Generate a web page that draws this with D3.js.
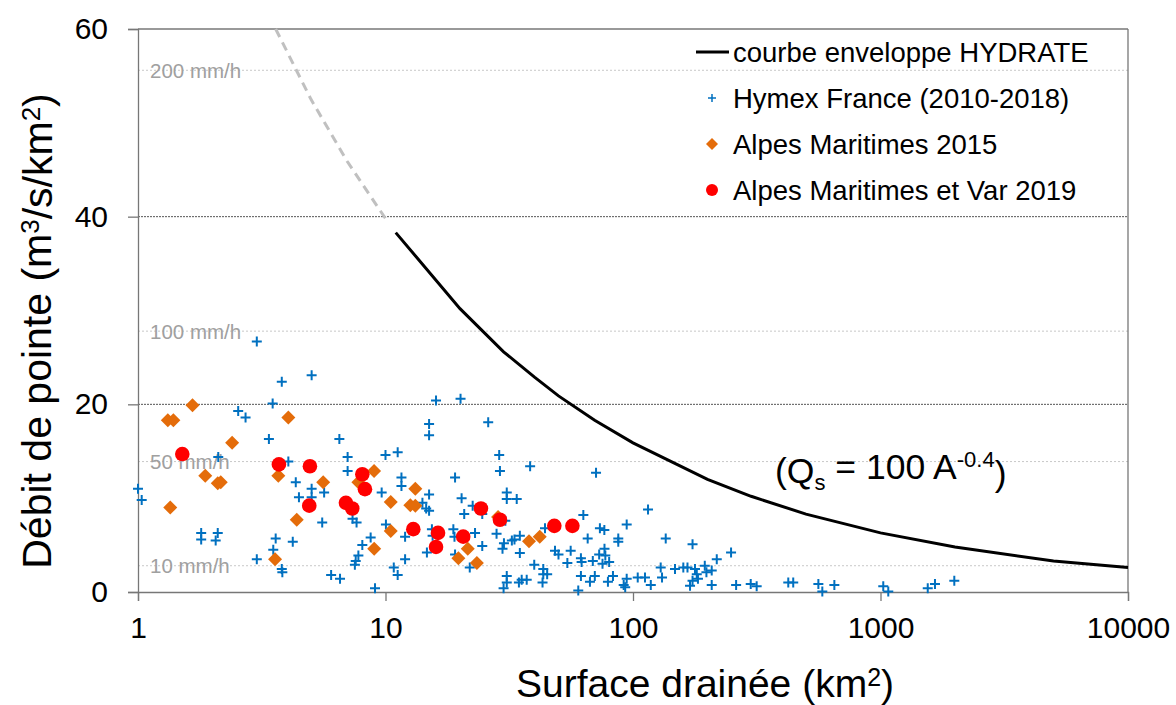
<!DOCTYPE html>
<html>
<head>
<meta charset="utf-8">
<script src="https://cdn.jsdelivr.net/npm/d3@7"></script>
<style>
  body { margin: 0; background: #fff; }
  svg { font-family: "Liberation Sans", Arial, sans-serif; }
</style>
</head>
<body>
<svg width="1176" height="705"></svg>
<script>
var width = 1176;
var height = 705;
var margin = { top: 29, right: 48, bottom: 113, left: 138 };

// axes
var xTicks = [1, 10, 100, 1000, 10000];
var yTicks = [0, 20, 40, 60];
var gridValues = [20, 40];

// rain intensity reference lines (m3/s/km2 for each mm/h)
var rateLabels = ["200 mm/h", "100 mm/h", "50 mm/h", "10 mm/h"];
var rateQ = [55.6, 27.8, 13.9, 2.8];

// envelope curve HYDRATE
var envArea = [11, 20, 30, 40, 50, 70, 100, 200, 300, 500, 1000, 2000, 5000, 10000];
var envQ = [38.3, 30.2, 25.6, 22.9, 20.9, 18.3, 15.9, 12.0, 10.2, 8.3, 6.3, 4.8, 3.3, 2.6];
// extrapolated part (grey dashes)
var extArea = [3.6, 5, 7, 10];
var extQ = [60, 52.5, 45.9, 39.8];

// Hymex France (2010-2018)
var hymexArea = [3.02, 3.81, 5.03, 3.5, 2.54, 2.72, 3.38, 2.11, 4.05,
  4.34, 1.0, 1.035, 5.03, 4.47, 5.03, 5.65, 5.55, 1.8, 1.8, 2.1, 2.06, 3.6, 4.22, 3.52, 3.02, 3.81, 3.83,
  16.0, 20.1, 15.0, 15.0, 26.0, 6.51, 7.03, 10.0, 11.2, 28.8,
  7.03, 11.6, 11.6, 19.1, 29.0, 9.65, 15.0, 14.1, 14.6, 15.0, 20.3, 22.5, 20.8, 24.6, 30.9, 30.9, 33.9, 30.5,
  7.36, 7.64, 10.04, 8.71, 8.06, 12.0, 15.4, 15.5, 18.8, 19.0, 23.0, 28.1, 30.1, 29.7, 32.4, 34.9, 14.7, 24.6,
  19.1, 21.9, 7.77, 7.58, 7.52, 12.0, 10.8, 11.2, 6.03, 6.55, 9.07, 30.9, 30.9, 30.0, 34.6,
  38.4, 70.9, 115, 63.0, 44.1, 73.5, 76.6, 94.3, 33.2, 65.6, 87.2, 87.2, 135.6, 174, 34.9, 48.4, 50.0, 56.0,
  61.6, 62.0, 54.3, 68.8, 73.0, 76.7, 77.3, 75.3, 80.1, 39.9, 43.4, 43.4, 45.0, 35.5, 37.2, 43.1, 61.6, 67.0,
  70.1, 60.1, 79.2, 83.0, 91.7, 94.3, 93, 104.5, 111.8, 118, 129.4, 131, 147.8, 159.7, 166, 178, 181, 174,
  170, 183, 195, 198,
  249, 218, 208, 208, 261, 299, 316, 424, 444, 561, 582, 651, 1026, 1075, 1552, 1660, 1987];
var hymexQ = [26.7, 22.4, 23.1, 20.1, 19.3, 18.6, 16.3, 14.4, 13.9,
  11.7, 11.0, 9.8, 11.0, 10.1, 10.1, 10.6, 7.4, 6.3, 5.6, 6.3, 5.5, 5.7, 5.35, 4.5, 3.5, 2.45, 2.1,
  20.4, 20.6, 17.9, 16.7, 18.1, 16.3, 14.4, 14.6, 14.9, 14.6,
  12.9, 12.2, 11.3, 12.2, 12.9, 10.6, 10.4, 9.5, 8.9, 8.65, 10.0, 9.2, 8.3, 8.3, 10.6, 9.9, 9.9, 7.6,
  7.8, 7.4, 7.2, 5.8, 5.0, 5.9, 6.7, 6.0, 6.7, 5.9, 6.3, 6.2, 5.2, 4.6, 5.5, 6.0, 4.2, 4.9,
  4.0, 2.6, 3.9, 3.3, 2.9, 3.5, 2.6, 1.8, 1.8, 1.4, 0.4, 1.7, 1.0, 0.4, 1.0,
  13.4, 12.7, 8.8, 8.2, 6.8, 6.8, 6.6, 7.2, 5.6, 5.7, 5.7, 5.35, 5.7, 5.1, 4.15, 4.4, 4.0, 4.4,
  3.6, 3.2, 3.1, 3.3, 4.0, 4.6, 3.9, 3.0, 3.2, 2.9, 2.45, 1.9, 1.9, 1.3, 1.3, 1.0, 1.7, 1.1,
  1.7, 0.15, 1.1, 1.7, 0.75, 1.4, 0.5, 1.55, 1.55, 0.75, 2.6, 1.55, 2.45, 2.6, 2.6, 2.45, 1.9, 1.2,
  0.67, 1.4, 2.8, 2.1,
  4.2, 3.5, 2.3, 0.75, 0.75, 0.85, 0.6, 1.0, 1.0, 0.85, 0.05, 0.75, 0.6, 0.05, 0.4, 0.85, 1.2];

// Alpes Maritimes 2015
var am2015Area = [1.66, 1.32, 1.39, 4.05, 2.4, 1.87, 2.1, 2.16, 3.69, 1.35, 5.6, 4.38, 3.58,
  8.99, 7.77, 13.2, 10.5, 12.6, 13.2, 28.5, 10.5, 9.0, 21.5, 19.7, 23.4, 38, 42];
var am2015Q = [19.9, 18.3, 18.3, 18.6, 15.9, 12.4, 11.6, 11.7, 12.4, 9.0, 11.7, 7.7, 3.5,
  12.9, 11.7, 11.0, 9.6, 9.25, 9.2, 8.0, 6.5, 4.6, 4.6, 3.6, 3.1, 5.4, 5.9];

// Alpes Maritimes et Var 2019
var am2019Area = [1.51, 3.71, 4.95, 4.92, 8.06, 8.26, 6.92, 7.34, 12.95, 16.3, 16.0, 20.6, 24.3, 29.0, 48.1, 56.9];
var am2019Q = [14.7, 13.6, 13.4, 9.2, 12.55, 10.96, 9.5, 8.9, 6.7, 6.3, 4.8, 5.9, 8.9, 7.7, 7.05, 7.05];

var svg = d3.select("svg");

var xScale = d3.scaleLog()
  .domain([1, 10000])
  .range([margin.left, width - margin.right]);
var yScale = d3.scaleLinear()
  .domain([0, 60])
  .range([height - margin.bottom, margin.top]);

function zip(a, b) {
  return a.map((v, i) => ({ a: v, q: b[i] }));
}

// mm/h reference lines and labels
svg.append("g")
  .selectAll("line")
  .data(rateQ)
  .enter()
  .append("line")
  .attr("x1", margin.left)
  .attr("x2", width - margin.right)
  .attr("y1", (d) => yScale(d))
  .attr("y2", (d) => yScale(d))
  .attr("stroke", "#c8c8c8")
  .attr("stroke-width", 1)
  .attr("stroke-dasharray", "2,2");

svg.append("g")
  .selectAll("text")
  .data(rateLabels)
  .enter()
  .append("text")
  .attr("x", margin.left + 12)
  .attr("y", (d, i) => yScale(rateQ[i]))
  .attr("dy", "0.36em")
  .style("font-size", "20.5px")
  .style("fill", "#a0a0a0")
  .text((d) => d);

// major gridlines
svg.append("g")
  .selectAll("line")
  .data(gridValues)
  .enter()
  .append("line")
  .attr("x1", margin.left)
  .attr("x2", width - margin.right)
  .attr("y1", (d) => yScale(d))
  .attr("y2", (d) => yScale(d))
  .attr("stroke", "#555")
  .attr("stroke-width", 1)
  .attr("stroke-dasharray", "2,1");

// plot frame top / right
svg.append("line")
  .attr("x1", margin.left).attr("x2", width - margin.right)
  .attr("y1", yScale(60)).attr("y2", yScale(60))
  .attr("stroke", "#777").attr("stroke-width", 1.3);
svg.append("line")
  .attr("x1", width - margin.right).attr("x2", width - margin.right)
  .attr("y1", yScale(60)).attr("y2", yScale(0))
  .attr("stroke", "#777").attr("stroke-width", 1.3);

// axes
var xAxis = d3.axisBottom(xScale)
  .tickValues(xTicks)
  .tickFormat(d3.format("d"))
  .tickSize(9)
  .tickPadding(16);
var yAxis = d3.axisLeft(yScale)
  .tickValues(yTicks)
  .tickSize(10)
  .tickPadding(20);

var gx = svg.append("g")
  .attr("transform", `translate(0, ${yScale(0)})`)
  .call(xAxis);
var gy = svg.append("g")
  .attr("transform", `translate(${margin.left}, 0)`)
  .call(yAxis);
[gx, gy].forEach((g) => {
  g.select(".domain").attr("stroke", "#777").attr("stroke-width", 1.3);
  g.selectAll(".tick line").attr("stroke", "#777").attr("stroke-width", 1.3);
  g.selectAll(".tick text")
    .style("font-family", "Liberation Sans, Arial, sans-serif")
    .style("font-size", "30px")
    .style("fill", "#000");
});

// axis titles
var xt = svg.append("text")
  .attr("x", 705)
  .attr("y", 697)
  .style("text-anchor", "middle")
  .style("font-size", "39px");
xt.append("tspan").text("Surface drainée (km");
xt.append("tspan").attr("dy", "-0.45em").style("font-size", "25px").text("2");
xt.append("tspan").attr("dy", "0.3em").text(")");

var yt = svg.append("text")
  .attr("transform", "rotate(-90)")
  .attr("x", -331)
  .attr("y", 51)
  .style("text-anchor", "middle")
  .style("font-size", "41px");
yt.append("tspan").text("Débit de pointe (m");
yt.append("tspan").attr("dy", "-0.45em").style("font-size", "26px").text("3");
yt.append("tspan").attr("dy", "0.3em").text("/s/km");
yt.append("tspan").attr("dy", "-0.45em").style("font-size", "26px").text("2");
yt.append("tspan").attr("dy", "0.3em").text(")");

// envelope curve
var line = d3.line()
  .x((d) => xScale(d.a))
  .y((d) => yScale(d.q));

svg.append("path")
  .datum(zip(extArea, extQ))
  .attr("d", line)
  .attr("fill", "none")
  .attr("stroke", "#c0c0c0")
  .attr("stroke-width", 3)
  .attr("stroke-dasharray", "9,6");

svg.append("path")
  .datum(zip(envArea, envQ))
  .attr("d", line)
  .attr("fill", "none")
  .attr("stroke", "#000")
  .attr("stroke-width", 3);

// scatter series
var plusPath = "M-5,0H5M0,-5V5";
var diamondPath = "M0,-7L7,0L0,7L-7,0Z";

svg.append("g")
  .selectAll("path")
  .data(zip(hymexArea, hymexQ))
  .enter()
  .append("path")
  .attr("transform", (d) => `translate(${xScale(d.a)},${yScale(d.q)})`)
  .attr("d", plusPath)
  .attr("stroke", "#0070c0")
  .attr("stroke-width", 2)
  .attr("fill", "none");

svg.append("g")
  .selectAll("path")
  .data(zip(am2015Area, am2015Q))
  .enter()
  .append("path")
  .attr("transform", (d) => `translate(${xScale(d.a)},${yScale(d.q)})`)
  .attr("d", diamondPath)
  .attr("fill", "#e46c0a");

svg.append("g")
  .selectAll("circle")
  .data(zip(am2019Area, am2019Q))
  .enter()
  .append("circle")
  .attr("cx", (d) => xScale(d.a))
  .attr("cy", (d) => yScale(d.q))
  .attr("r", 7.3)
  .attr("fill", "#ff0000");

// equation label
var eq = svg.append("text")
  .attr("x", 775)
  .attr("y", 483)
  .style("font-size", "35.5px");
eq.append("tspan").text("(Q");
eq.append("tspan").attr("dy", "0.3em").style("font-size", "22px").text("s");
eq.append("tspan").attr("dy", "-0.3em").text(" = 100 A");
eq.append("tspan").attr("dy", "-0.55em").style("font-size", "22px").text("-0.4");
eq.append("tspan").attr("dy", "0.55em").text(")");

// legend
var legendLabels = ["courbe enveloppe HYDRATE", "Hymex France (2010-2018)", "Alpes Maritimes 2015", "Alpes Maritimes et Var 2019"];
var legendY = [52, 98, 144, 190];
var lg = svg.append("g");
lg.append("line")
  .attr("x1", 696).attr("x2", 729)
  .attr("y1", legendY[0]).attr("y2", legendY[0])
  .attr("stroke", "#000").attr("stroke-width", 3);
lg.append("path")
  .attr("transform", `translate(712,${legendY[1]})`)
  .attr("d", "M-4,0H4M0,-4V4")
  .attr("stroke", "#0070c0").attr("stroke-width", 1.5);
lg.append("path")
  .attr("transform", `translate(712,${legendY[2]})`)
  .attr("d", "M0,-6L6,0L0,6L-6,0Z")
  .attr("fill", "#e46c0a");
lg.append("circle")
  .attr("cx", 712).attr("cy", legendY[3]).attr("r", 6)
  .attr("fill", "#ff0000");
lg.selectAll("text")
  .data(legendLabels)
  .enter()
  .append("text")
  .attr("x", 733)
  .attr("y", (d, i) => legendY[i])
  .attr("dy", "0.36em")
  .style("font-size", "27.5px")
  .text((d) => d);
</script>
</body>
</html>
